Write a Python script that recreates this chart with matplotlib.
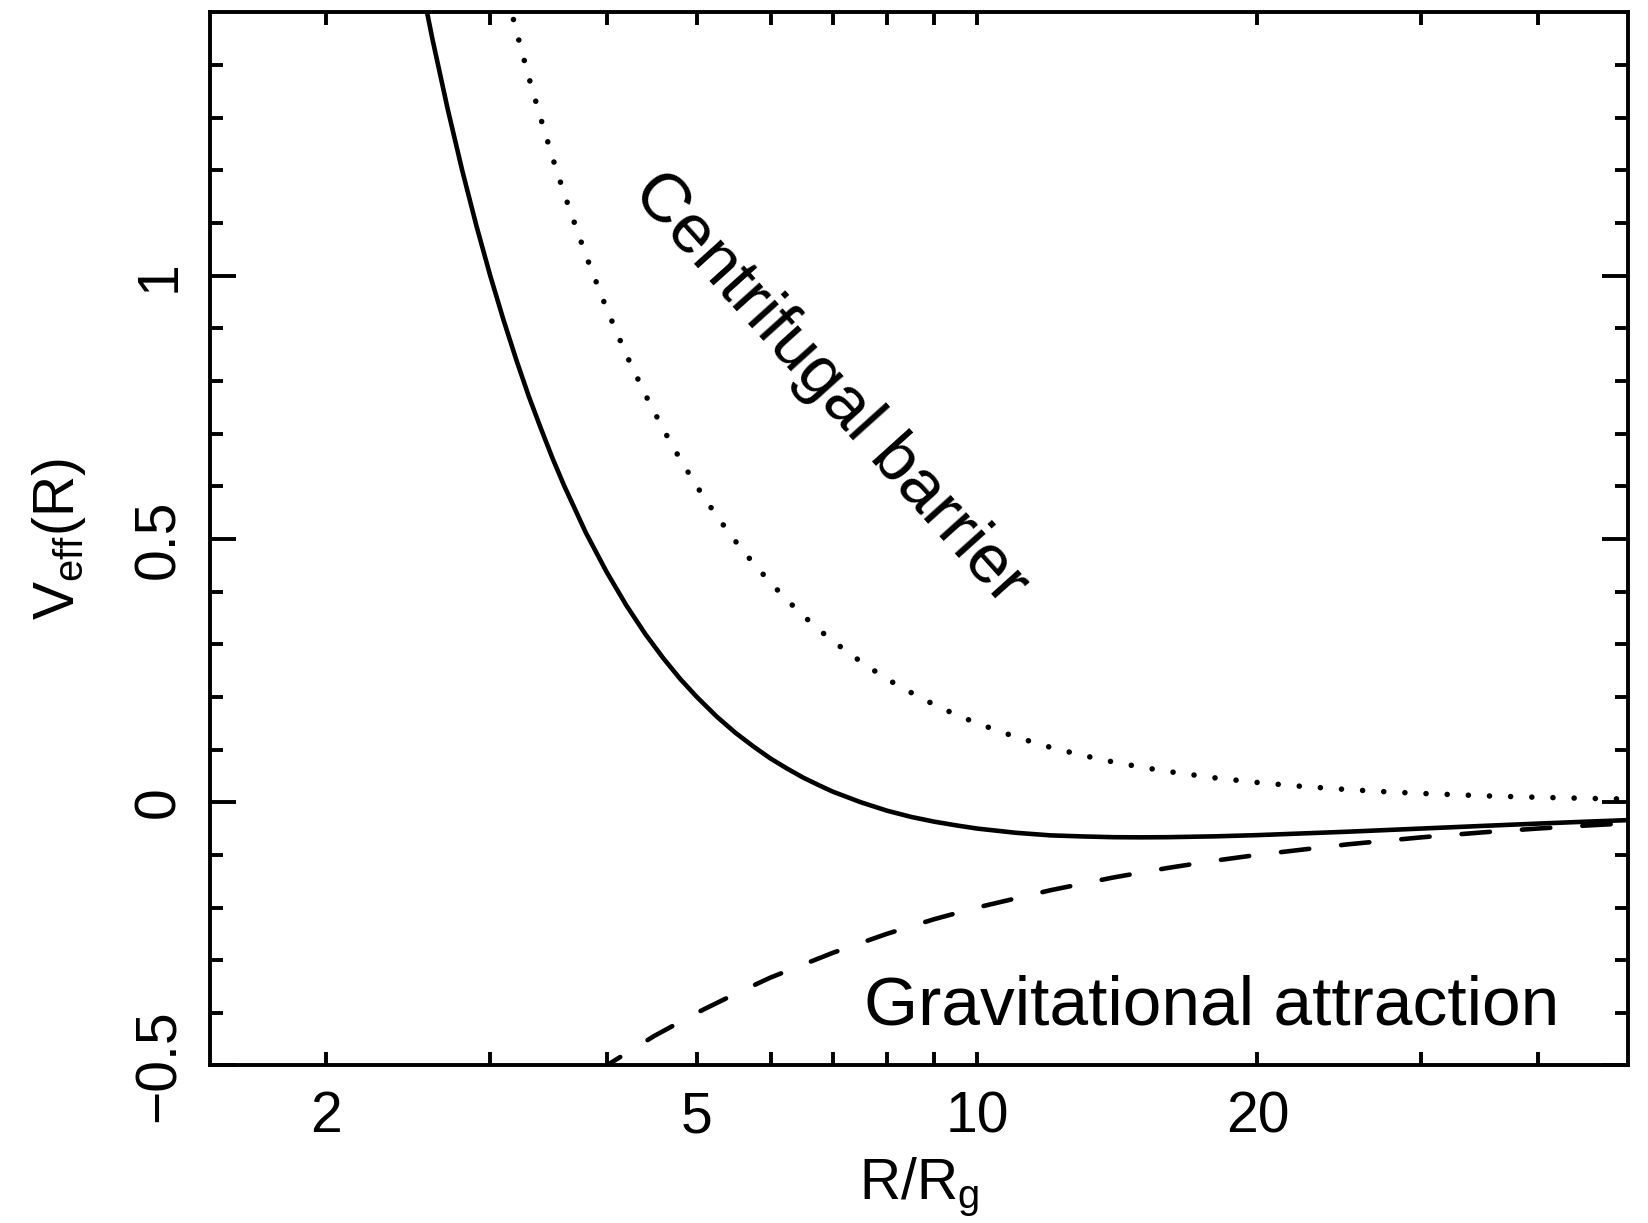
import matplotlib
matplotlib.use('Agg')
import matplotlib.pyplot as plt
from matplotlib.ticker import FixedLocator, NullFormatter

# ---- data ----
r_total = [2.5, 2.6, 2.7, 2.8, 2.9, 3.0, 3.1, 3.2, 3.3, 3.4, 3.5, 3.6, 3.8, 4.0,
           4.2, 4.4, 4.6, 4.8, 5.0, 5.25, 5.5, 5.75, 6.0, 6.25, 6.5, 6.75, 7.0,
           7.5, 8.0, 8.5, 9.0, 9.5, 10, 11, 12, 13, 14, 15, 16, 18, 20, 25, 30,
           35, 40, 45, 50]
v_total = [1.600, 1.450, 1.317, 1.199, 1.094, 1.000, 0.916, 0.840, 0.771, 0.710,
           0.653, 0.602, 0.512, 0.4375, 0.374, 0.320, 0.274, 0.234, 0.200, 0.163,
           0.132, 0.106, 0.083, 0.064, 0.047, 0.033, 0.020, 0.000, -0.016,
           -0.028, -0.037, -0.044, -0.050, -0.058, -0.063, -0.065, -0.0664,
           -0.0667, -0.0664, -0.0648, -0.0625, -0.056, -0.050, -0.0449, -0.0406,
           -0.037, -0.034]

r_cent = [3.0, 3.1, 3.2, 3.3, 3.4, 3.5, 3.6, 3.8, 4.0, 4.2, 4.4, 4.6, 4.8, 5.0,
          5.25, 5.5, 5.75, 6.0, 6.25, 6.5, 6.75, 7.0, 7.5, 8.0, 8.5, 9.0, 9.5,
          10, 11, 12, 13, 14, 15, 16, 18, 20, 22, 25, 28, 30, 35, 40, 45, 50]
v_cent = [1.667, 1.561, 1.465, 1.377, 1.298, 1.224, 1.157, 1.039, 0.9375, 0.850,
          0.775, 0.709, 0.651, 0.600, 0.544, 0.496, 0.454, 0.417, 0.384, 0.355,
          0.329, 0.306, 0.267, 0.234, 0.208, 0.185, 0.166, 0.150, 0.124, 0.104,
          0.0888, 0.0765, 0.0667, 0.0586, 0.0463, 0.0375, 0.0310, 0.024, 0.0191,
          0.0167, 0.0122, 0.0094, 0.0074, 0.006]

r_grav = [3.9, 4.0, 4.5, 5.0, 5.5, 6.0, 7.0, 8.0, 9.0, 10, 12, 14, 16, 18, 20,
          25, 30, 35, 40, 45, 50]
v_grav = [-0.513, -0.500, -0.444, -0.400, -0.364, -0.333, -0.286, -0.250, -0.222,
          -0.200, -0.167, -0.143, -0.125, -0.111, -0.100, -0.080, -0.0667,
          -0.0571, -0.050, -0.0444, -0.040]

x_major = [2, 5, 10, 20]
x_major_labels = ['2', '5', '10', '20']
x_minor = [3, 4, 6, 7, 8, 9, 30, 40]
y_major = [-0.5, 0, 0.5, 1]
y_major_labels = ['\u22120.5', '0', '0.5', '1']
y_minor = [-0.4, -0.3, -0.2, -0.1, 0.1, 0.2, 0.3, 0.4, 0.6, 0.7, 0.8, 0.9,
           1.1, 1.2, 1.3, 1.4]

# ---- styling ----
plt.rcParams['font.family'] = ['Liberation Sans', 'DejaVu Sans']
plt.rcParams['mathtext.fontset'] = 'custom'
plt.rcParams['mathtext.rm'] = 'Liberation Sans'
plt.rcParams['mathtext.it'] = 'Liberation Sans:italic'

fig = plt.figure(figsize=(16.48, 12.23), dpi=100)
ax = fig.add_axes([0.1274, 0.1288, 0.8604, 0.8610])

ax.plot(r_total, v_total, color='black', lw=3.3, solid_capstyle='butt',
        solid_joinstyle='round')
ax.plot(r_cent, v_cent, color='black', lw=4.0, linestyle=(0, (0.01, 3.8)),
        dash_capstyle='round')
ax.plot(r_grav, v_grav, color='black', lw=3.3, linestyle=(0, (6.2, 7.0)),
        dash_capstyle='round')

ax.set_xscale('log')
ax.set_xlim(1.5, 50)
ax.set_ylim(-0.5, 1.5)

ax.xaxis.set_major_locator(FixedLocator(x_major))
ax.xaxis.set_minor_locator(FixedLocator(x_minor))
ax.xaxis.set_minor_formatter(NullFormatter())
ax.set_xticklabels(x_major_labels)
ax.yaxis.set_major_locator(FixedLocator(y_major))
ax.yaxis.set_minor_locator(FixedLocator(y_minor))
ax.set_yticklabels(y_major_labels, rotation=90, va='center')

for s in ax.spines.values():
    s.set_linewidth(2.8)

ax.tick_params(which='both', direction='in', top=True, right=True, width=2.8,
               labelsize=41, color='black')
ax.tick_params(axis='x', which='both', length=9.4, pad=18)
ax.tick_params(axis='y', which='major', length=18.7, pad=17)
ax.tick_params(axis='y', which='minor', length=9.4)

ax.set_xlabel(r'R/R$_\mathregular{g}$', fontsize=41, labelpad=8)
ax.set_ylabel(r'V$_\mathregular{eff}$(R)', fontsize=41, labelpad=32)

ax.text(0.437, 0.643, 'Centrifugal barrier', transform=ax.transAxes,
        fontsize=50, rotation=-48, ha='center', va='center',
        rotation_mode='anchor')
ax.text(0.461, 0.0385, 'Gravitational attraction', transform=ax.transAxes,
        fontsize=50, ha='left', va='baseline')

fig.savefig('out.png', dpi=100)
